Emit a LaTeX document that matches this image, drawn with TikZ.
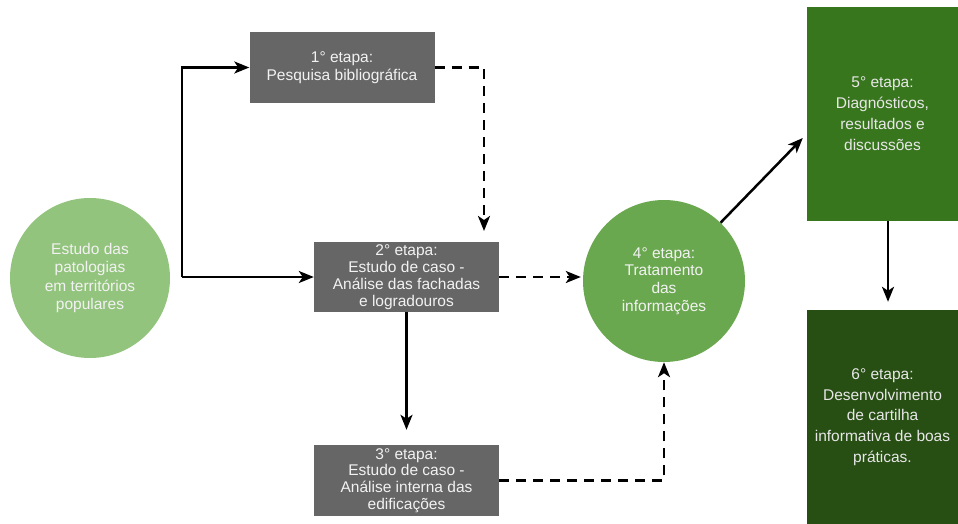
\documentclass[tikz,border=0pt]{standalone}
\usepackage{fontspec}
\setmainfont{Liberation Sans}
\usetikzlibrary{arrows.meta,calc}
\definecolor{boxgray}{HTML}{666666}
\definecolor{lgreen}{HTML}{93C47D}
\definecolor{mgreen}{HTML}{6AA84F}
\definecolor{dgreenA}{HTML}{38761D}
\definecolor{dgreenB}{HTML}{274E13}
\definecolor{txt}{HTML}{F2F2F2}
\tikzset{
  gbox/.style={rectangle, fill=boxgray, text=txt, minimum width=185pt, minimum height=71pt, inner sep=0pt, align=center},
  circ/.style={circle, minimum size=#1, inner sep=0pt, align=center, text=txt},
  gblock/.style={rectangle, minimum width=151pt, minimum height=214pt, inner sep=0pt, align=center, text=txt!90!gray},
  arr/.style={line width=2.5pt, -{Stealth[length=15pt,width=12pt,inset=4pt]}},
  darr/.style={arr, dash pattern=on 10pt off 7pt},
  fs/.style={font=\fontsize{15.5}{#1}\selectfont}
}
\begin{document}
\begin{tikzpicture}[x=1pt,y=-1pt]
\useasboundingbox (0,0) rectangle (958,524);
\node[circ=160pt, fill=lgreen, fs=18.5] (c1) at (90,278) {Estudo das\\patologias\\em territórios\\populares};
\node[gbox, fs=18] (b1) at (342,67.5) {1° etapa:\\Pesquisa bibliográfica};
\node[gbox, fs=17, minimum height=70pt] (b2) at (406.5,277) {2° etapa:\\Estudo de caso -\\Análise das fachadas\\e logradouros};
\node[gbox, fs=16.8] (b3) at (406.5,480.5) {3° etapa:\\Estudo de caso -\\Análise interna das\\edificações};
\node[circ=162pt, fill=mgreen, fs=17.8] (c4) at (664,281) {4° etapa:\\Tratamento\\das\\informações};
\node[gblock, fill=dgreenA, fs=21] (b5) at (882.5,114) {5° etapa:\\Diagnósticos,\\resultados e\\discussões};
\node[gblock, fill=dgreenB, fs=20.7] (b6) at (882.5,417) {6° etapa:\\Desenvolvimento\\de cartilha\\informativa de boas\\práticas.};

\coordinate (j2) at (182,277);
\coordinate (d1) at (484,231);
\draw[arr, line join=miter] (j2) |- (b1.west);
\draw[arr] (j2) -- (b2.west);
\draw[darr] (b1.east) -| (d1);
\draw[darr, shorten >=2pt] (b2.east) -- (c4.west |- b2.east);
\draw[arr, shorten >=15pt] (b2.south) -- (b3.north);
\draw[darr] (b3.east) -| (c4.south);
\draw[arr] (c4) -- ($(b5.west)+(-4,24)$);
\draw[arr, shorten >=8pt] ($(b5.south)+(5.5,0)$) -- ($(b6.north)+(5.5,0)$);
\end{tikzpicture}
\end{document}
